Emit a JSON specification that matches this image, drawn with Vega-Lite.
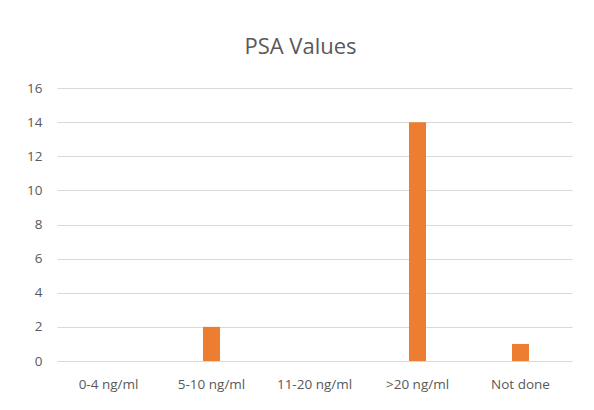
{
  "$schema": "https://vega.github.io/schema/vega-lite/v6.json",
  "autosize": "none",
  "width": 515,
  "height": 273,
  "padding": {"left": 57, "top": 88, "right": 22, "bottom": 49},
  "background": "white",
  "title": {
    "text": "PSA Values",
    "font": "Open Sans",
    "fontSize": 22,
    "fontWeight": "normal",
    "color": "#595959",
    "anchor": "middle",
    "dx": -14,
    "offset": 22
  },
  "data": {
    "values": [
      {"category": "0-4 ng/ml", "count": 0},
      {"category": "5-10 ng/ml", "count": 2},
      {"category": "11-20 ng/ml", "count": 0},
      {"category": ">20 ng/ml", "count": 14},
      {"category": "Not done", "count": 1}
    ]
  },
  "mark": {"type": "bar", "color": "#ED7D31"},
  "encoding": {
    "x": {
      "field": "category",
      "type": "nominal",
      "sort": null,
      "scale": {"paddingInner": 0.835, "paddingOuter": 0.4175},
      "axis": {
        "title": null,
        "labelAngle": 0,
        "ticks": false,
        "domain": false,
        "labelPadding": 16,
        "labelFont": "Open Sans",
        "labelFontSize": 13.5,
        "labelColor": "#595959"
      }
    },
    "y": {
      "field": "count",
      "type": "quantitative",
      "scale": {"domain": [0, 16]},
      "axis": {
        "title": null,
        "values": [0, 2, 4, 6, 8, 10, 12, 14, 16],
        "ticks": false,
        "domain": false,
        "labelPadding": 15,
        "labelFont": "Open Sans",
        "labelFontSize": 13.5,
        "labelColor": "#595959",
        "gridColor": "#D9D9D9",
        "gridWidth": 1
      }
    }
  },
  "config": {"view": {"stroke": null}}
}
